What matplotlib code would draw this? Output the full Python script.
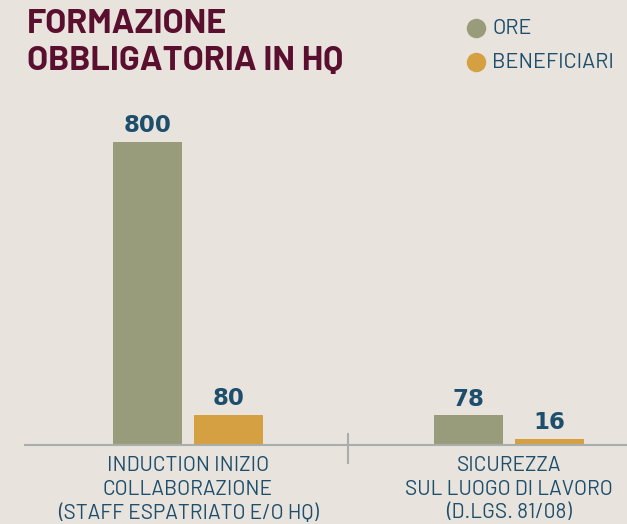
import matplotlib
matplotlib.use("Agg")
from matplotlib import pyplot as plt
from matplotlib.lines import Line2D
import numpy as np

# chart data
categorie = ["INDUCTION INIZIO\nCOLLABORAZIONE\n(STAFF ESPATRIATO E/O HQ)",
             "SICUREZZA\nSUL LUOGO DI LAVORO\n(D.LGS. 81/08)"]
ore = [800, 78]
beneficiari = [80, 16]
serie = ["ORE", "BENEFICIARI"]
titolo = ["FORMAZIONE", "OBBLIGATORIA IN HQ"]

SFONDO = "#e8e3dd"
VERDE = "#999c7b"
ARANCIO = "#d5a042"
BLU = "#1d4e6c"
BORDEAUX = "#5a0f2f"
GRIGIO = "#a7aeab"
LARGO = ["Barlow", "DejaVu Sans"]

W, H = 627, 524
fig = plt.figure(figsize=(W / 100, H / 100), dpi=100, facecolor=SFONDO)

# axes placed in pixel terms: baseline at y=445, left edge x=25
ax = fig.add_axes([25 / W, 1 - 445 / H, (W - 25) / W, 365 / H])
ax.set_facecolor(SFONDO)

x = np.arange(len(categorie))
larg = 0.215
off = 0.126
b1 = ax.bar(x - off, ore, larg, color=VERDE, zorder=2)
b2 = ax.bar(x + off, beneficiari, larg, color=ARANCIO, zorder=2)

for barre, valori in ((b1, ore), (b2, beneficiari)):
    for b, v in zip(barre, valori):
        ax.annotate(str(v), (b.get_x() + b.get_width() / 2, v),
                    xytext=(0, 3.5), textcoords="offset points",
                    ha="center", va="bottom", fontsize=16.5,
                    fontweight="bold", color=BLU, family="DejaVu Sans")

ax.set_xlim(-0.508, 1.368)
ax.set_ylim(0, 963)

for s in ["top", "left", "right"]:
    ax.spines[s].set_visible(False)
ax.spines["bottom"].set_color(GRIGIO)
ax.spines["bottom"].set_linewidth(1.5)
ax.set_yticks([])
ax.set_xticks(x)
ax.set_xticklabels(categorie, family=LARGO, fontsize=15, color=BLU,
                   linespacing=1.3)
ax.tick_params(axis="x", length=0, pad=8)

# separatore tra i due gruppi
ax.add_line(Line2D([0.498, 0.498], [29, -47], color=GRIGIO, lw=1.5,
                   clip_on=False))

# titolo su due righe
for riga, base in zip(titolo, [33, 70]):
    fig.text(27 / W, 1 - base / H, riga, family=LARGO, fontweight="bold",
             fontsize=24.5, color=BORDEAUX, va="baseline")

# legenda con pallini
for i, (nome, col) in enumerate(zip(serie, [VERDE, ARANCIO])):
    yy = 1 - (28 + 34 * i) / H
    fig.add_artist(Line2D([476 / W], [yy], marker="o", markersize=14,
                          color=col, markeredgewidth=0))
    fig.text(492 / W, yy, nome, family=LARGO, fontsize=15.5, color=BLU,
             va="center")

fig.savefig("out.png", dpi=100, facecolor=SFONDO)
